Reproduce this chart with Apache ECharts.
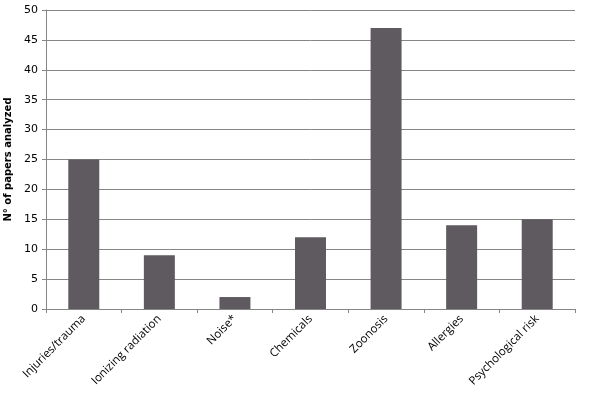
<!DOCTYPE html>
<html><head><meta charset="utf-8">
<script src="https://cdn.jsdelivr.net/npm/echarts@6/dist/echarts.min.js"></script>
<style>html,body{margin:0;padding:0;background:#fff}#c{width:597px;height:398px}</style>
</head><body><div id="c"></div>
<script>
const categories = ["Injuries/trauma","Ionizing radiation","Noise*","Chemicals","Zoonosis","Allergies","Psychological risk"];
const papers = [25, 9, 2, 12, 47, 14, 15];
const yTicks = {min: 0, max: 50, interval: 5};
const yTitle = "N° of papers analyzed";

const chart = echarts.init(document.getElementById('c'), null, {renderer: 'canvas'});
chart.setOption({
  animation: false,
  backgroundColor: '#ffffff',
  grid: {left: 46, right: 22, top: 10, bottom: 89, containLabel: false, outerBoundsMode: 'none'},
  xAxis: {
    type: 'category', data: categories,
    axisLine: {lineStyle: {color: '#868686', width: 1}},
    axisTick: {show: true, length: 4, alignWithLabel: false, lineStyle: {color: '#868686'}},
    axisLabel: {rotate: 45, interval: 0, fontFamily: 'Open Sans', fontSize: 11.5, color: '#000', margin: 8}
  },
  yAxis: {
    type: 'value', min: yTicks.min, max: yTicks.max, interval: yTicks.interval,
    name: yTitle, nameLocation: 'middle', nameGap: 30,
    nameTextStyle: {fontFamily: 'DejaVu Sans', fontWeight: 'bold', fontSize: 10, color: '#000'},
    axisLine: {show: true, lineStyle: {color: '#868686'}},
    axisTick: {show: true, length: 4, lineStyle: {color: '#868686'}},
    axisLabel: {fontFamily: 'DejaVu Sans', fontSize: 11, color: '#000', margin: 8},
    splitLine: {lineStyle: {color: '#868686', width: 1}}
  },
  series: [{
    type: 'bar', data: papers, barWidth: '41%',
    itemStyle: {color: '#5e5a5f'}
  }]
});
</script></body></html>
